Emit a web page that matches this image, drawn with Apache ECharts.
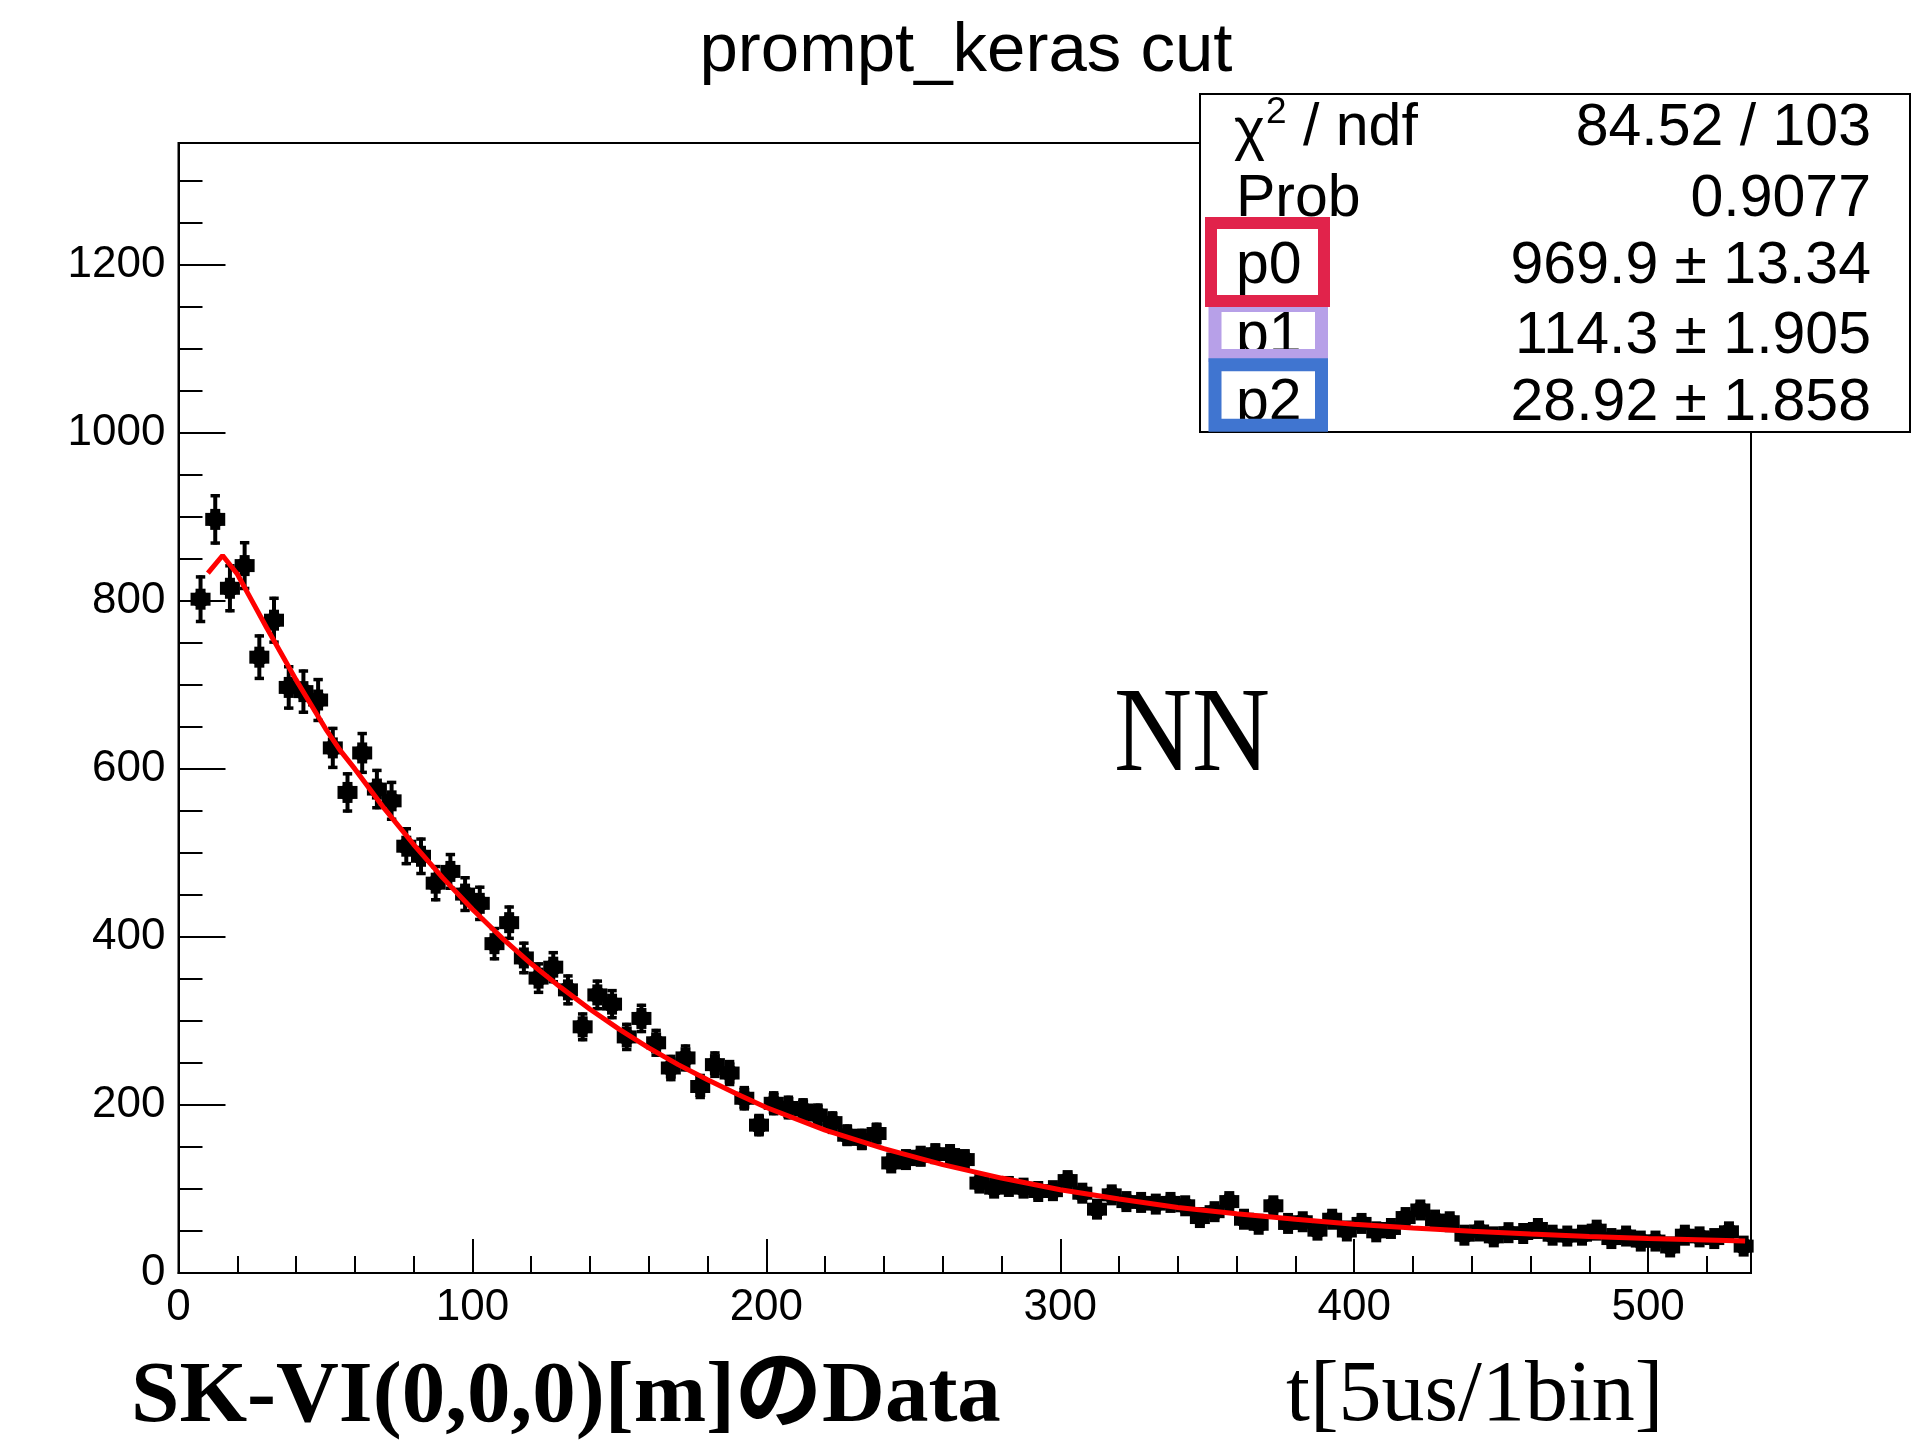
<!DOCTYPE html>
<html><head><meta charset="utf-8">
<script src="https://cdn.jsdelivr.net/npm/echarts@6/dist/echarts.min.js"></script>
<style>html,body{margin:0;padding:0;background:#fff}#c{width:1917px;height:1440px}</style>
</head><body><div id="c"></div>
<script>
// ---- data ----
const binCenters = [7.5,12.5,17.5,22.5,27.5,32.5,37.5,42.5,47.5,52.5,57.5,62.5,67.5,72.5,77.5,82.5,87.5,92.5,97.5,102.5,
  107.5,112.5,117.5,122.5,127.5,132.5,137.5,142.5,147.5,152.5,157.5,162.5,167.5,172.5,177.5,182.5,187.5,192.5,197.5,202.5,
  207.5,212.5,217.5,222.5,227.5,232.5,237.5,242.5,247.5,252.5,257.5,262.5,267.5,272.5,277.5,282.5,287.5,292.5,297.5,302.5,
  307.5,312.5,317.5,322.5,327.5,332.5,337.5,342.5,347.5,352.5,357.5,362.5,367.5,372.5,377.5,382.5,387.5,392.5,397.5,402.5,
  407.5,412.5,417.5,422.5,427.5,432.5,437.5,442.5,447.5,452.5,457.5,462.5,467.5,472.5,477.5,482.5,487.5,492.5,497.5,502.5,
  507.5,512.5,517.5,522.5,527.5,532.5];
const counts = [802,897,815,842,733,777,697,692,682,625,572,619,576,562,508,496,464,478,451,440,
  392,417,375,351,364,337,293,331,320,281,303,274,244,256,222,248,238,208,176,202,
  197,194,188,179,164,159,166,131,135,139,142,141,135,107,101,103,101,97,98,110,
  95,76,93,85,84,82,84,80,66,73,85,64,58,80,59,61,51,64,50,59,
  49,53,66,75,63,61,45,50,43,48,47,53,45,44,45,51,41,44,38,38,
  31,45,43,41,49,32];
const fitX = [10,15,20,25,30,35,40,45,50,55,60,70,80,90,100,110,120,130,140,150,160,170,180,190,200,
  220,240,260,280,300,320,340,360,380,400,420,440,460,480,500,520,533];
const fitY = [833,854,832,800,768,737,706,677,648,622,600,553,510,470,433,399,368,340,314,290,268,248,230,213,197,
  170,148,129,113,99,88,78,70.5,64,58,53.5,49.6,46.3,43.5,41,39.2,38];
const xMajorTick = 100, xMinorTick = 20, yMajorTick = 200, yMinorTick = 50;
const xMax = 535, yMax = 1345;
const titleText = 'prompt_keras cut';
const statLabels = ['Prob', 'p0', 'p1', 'p2'];
const statValues = ['84.52 / 103', '0.9077', '969.9 \u00b1 13.34', '114.3 \u00b1 1.905', '28.92 \u00b1 1.858'];
const bottomLeft = 'SK-VI(0,0,0)[m]\u306eData';
const bottomRight = 't[5us/1bin]';
const innerLabel = 'NN';

const chart = echarts.init(document.getElementById('c'), null, {renderer: 'canvas'});
const SANS = '"Liberation Sans", Arial, Helvetica, sans-serif';
const SERIF = '"Liberation Serif", "Times New Roman", "Noto Sans CJK JP", serif';

const pts = binCenters.map((x, i) => [x, counts[i], Math.sqrt(counts[i])]);
const fit = fitX.map((x, i) => [x, fitY[i]]);

const axisLineStyle = {color: '#000', width: 2};
const rowBase = [146.5, 218, 285, 355, 421.5];
const mid = b => b - 18;
const plain = v => String(Math.round(v));

const graphic = [
  {type: 'text', x: 966, y: 52, z: 50, style: {text: titleText, fontSize: 69, fontFamily: SANS, fill: '#000', align: 'center', verticalAlign: 'middle'}},
  {type: 'text', x: 1114, y: 738, z: 50, scaleX: 0.9, style: {text: innerLabel, fontSize: 120, fontFamily: SERIF, fill: '#000', align: 'left', verticalAlign: 'middle'}},
  {type: 'text', x: 131, y: 1399, z: 50, style: {text: bottomLeft, fontSize: 87, fontWeight: 'bold', fontFamily: SERIF, fill: '#000', align: 'left', verticalAlign: 'middle'}},
  {type: 'text', x: 1286, y: 1397, z: 50, style: {text: bottomRight, fontSize: 86, fontFamily: SERIF, fill: '#000', align: 'left', verticalAlign: 'middle'}},
  // stats box
  {type: 'rect', z: 60, shape: {x: 1200, y: 94, width: 710, height: 338}, style: {fill: '#fff', stroke: '#000', lineWidth: 2}},
  {type: 'text', x: 1234, y: mid(rowBase[0]) + 4, z: 61, style: {text: '\u03c7', fontSize: 59, fontFamily: SANS, fill: '#000', align: 'left', verticalAlign: 'middle'}},
  {type: 'text', x: 1266, y: 113, z: 61, style: {text: '2', fontSize: 37, fontFamily: SANS, fill: '#000', align: 'left', verticalAlign: 'middle'}},
  {type: 'text', x: 1303, y: mid(rowBase[0]), z: 61, style: {text: '/ ndf', fontSize: 59, fontFamily: SANS, fill: '#000', align: 'left', verticalAlign: 'middle'}}
];
statLabels.forEach((t, i) => graphic.push({type: 'text', x: 1236, y: mid(rowBase[i + 1]), z: 61,
  style: {text: t, fontSize: 59, fontFamily: SANS, fill: '#000', align: 'left', verticalAlign: 'middle'}}));
statValues.forEach((t, i) => graphic.push({type: 'text', x: 1871, y: mid(rowBase[i]), z: 61,
  style: {text: t, fontSize: 59, fontFamily: SANS, fill: '#000', align: 'right', verticalAlign: 'middle'}}));
graphic.push(
  {type: 'rect', z: 62, shape: {x: 1215, y: 305.5, width: 106.5, height: 50}, style: {fill: 'none', stroke: '#B7A0E8', lineWidth: 13}},
  {type: 'rect', z: 63, shape: {x: 1215, y: 364.8, width: 106.5, height: 60.4}, style: {fill: 'none', stroke: '#4075D0', lineWidth: 13}},
  {type: 'rect', z: 64, shape: {x: 1211, y: 223, width: 113, height: 78}, style: {fill: 'none', stroke: '#E1234B', lineWidth: 12}}
);

const option = {
  animation: false,
  backgroundColor: '#fff',
  grid: {left: 178.5, top: 143, width: 1572.5, height: 1130, show: true, borderColor: '#000', borderWidth: 2, backgroundColor: 'transparent'},
  xAxis: [
    {type: 'value', position: 'bottom', min: 0, max: xMax, interval: xMajorTick,
      axisLine: {show: true, lineStyle: axisLineStyle}, splitLine: {show: false},
      axisTick: {show: true, inside: true, length: 34, lineStyle: axisLineStyle},
      axisLabel: {show: true, margin: 13, fontSize: 44, fontFamily: SANS, color: '#000', formatter: plain, showMaxLabel: false, showMinLabel: true}},
    {type: 'value', position: 'bottom', min: 0, max: xMax, interval: xMinorTick,
      axisLine: {show: false}, splitLine: {show: false},
      axisTick: {show: true, inside: true, length: 17, lineStyle: axisLineStyle},
      axisLabel: {show: false}}
  ],
  yAxis: [
    {type: 'value', position: 'left', min: 0, max: yMax, interval: yMajorTick,
      axisLine: {show: true, lineStyle: axisLineStyle}, splitLine: {show: false},
      axisTick: {show: true, inside: true, length: 47, lineStyle: axisLineStyle},
      axisLabel: {show: true, margin: 13, fontSize: 44, fontFamily: SANS, color: '#000', formatter: plain, showMaxLabel: false}},
    {type: 'value', position: 'left', min: 0, max: yMax, interval: yMinorTick,
      axisLine: {show: false}, splitLine: {show: false},
      axisTick: {show: true, inside: true, length: 24, lineStyle: axisLineStyle},
      axisLabel: {show: false}}
  ],
  series: [
    {type: 'custom', xAxisIndex: 0, yAxisIndex: 0, z: 2, data: pts, encode: {x: 0, y: 1},
      renderItem: function (params, api) {
        const x = api.value(0), y = api.value(1), e = api.value(2);
        const c = api.coord([x, y]);
        const top = api.coord([x, y + e])[1];
        const bot = api.coord([x, y - e])[1];
        const cap = 4.7, lw = 4;
        const st = {stroke: '#000', lineWidth: lw};
        return {type: 'group', children: [
          {type: 'line', shape: {x1: c[0], y1: top, x2: c[0], y2: bot}, style: st},
          {type: 'line', shape: {x1: c[0] - cap, y1: top + 1.5, x2: c[0] + cap, y2: top + 1.5}, style: {stroke: '#000', lineWidth: 3.5}},
          {type: 'line', shape: {x1: c[0] - cap, y1: bot - 1.5, x2: c[0] + cap, y2: bot - 1.5}, style: {stroke: '#000', lineWidth: 3.5}},
          {type: 'rect', shape: {x: c[0] - 10, y: c[1] - 6.5, width: 20, height: 13}, style: {fill: '#000'}},
          {type: 'rect', shape: {x: c[0] - 5, y: c[1] - 10.5, width: 10, height: 21}, style: {fill: '#000'}},
          {type: 'circle', shape: {cx: c[0], cy: c[1], r: 8.5}, style: {fill: '#000'}}
        ]};
      }},
    {type: 'line', xAxisIndex: 0, yAxisIndex: 0, z: 3, data: fit, showSymbol: false, symbol: 'none',
      lineStyle: {color: '#ff0000', width: 5}, smooth: false}
  ],
  graphic: graphic
};
chart.setOption(option);
</script></body></html>
